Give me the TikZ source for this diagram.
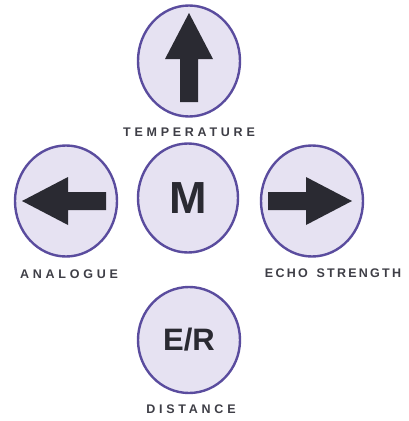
\documentclass[tikz,border=0pt]{standalone}
\usepackage{fontspec}
\usepackage{tikz}
\usetikzlibrary{shapes.geometric}
\newfontfamily\keyfont{Liberation Sans}
\newfontfamily\capfont{Liberation Sans}[LetterSpace=30]
\newfontfamily\capfontnarrow{Liberation Sans}[LetterSpace=18]
\definecolor{keyfill}{RGB}{230,226,242}
\definecolor{keyrim}{RGB}{90,76,158}
\definecolor{keyink}{RGB}{42,42,50}
\definecolor{capink}{RGB}{62,62,70}
\tikzstyle{key}=[ellipse, draw=keyrim, fill=keyfill, line width=2.4pt, minimum width=102pt, minimum height=111pt, inner sep=0pt]
\tikzstyle{keytext}=[text=keyink, font=\keyfont\bfseries]
\tikzstyle{capline}=[text=capink, font=\capfont\bfseries\fontsize{12.5}{13}\selectfont, inner sep=0pt]
\tikzstyle{arrowfill}=[fill=keyink]
\begin{document}
\begin{tikzpicture}[x=1pt, y=-1pt]
	\useasboundingbox (0,0) rectangle (408,421);
	\node[key] (up) at (189,61) {};
	\node[key] (left) at (66,201) {};
	\node[key, minimum width=100pt, minimum height=109pt, keytext, font=\keyfont\bfseries\fontsize{45}{45}\selectfont] (mid) at (188,198) {M};
	\node[key] (right) at (312,201) {};
	\node[key, minimum height=106pt, keytext, font=\keyfont\bfseries\fontsize{31}{31}\selectfont] (down) at (189,340) {E/R};
	\foreach \n/\a/\d/\t in {up/90/4/-45, left/180/0/-40, right/0/-4/-40}{
		\fill[arrowfill, shift={(\n.center)}, rotate=\a, xshift=\d] (\t,-9) -- (-2,-9) -- (-2,-24) -- (44,0) -- (-2,24) -- (-2,9) -- (\t,9) -- cycle;
	}
	\node[capline] (temp) at (189,132) {TEMPERATURE};
	\node[capline] (analogue) at (69,274) {ANALOGUE};
	\node[capline, font=\capfontnarrow\bfseries\fontsize{12.5}{13}\selectfont] (echo) at (333,273) {ECHO\hspace{3pt} STRENGTH};
	\node[capline] (distance) at (191,409) {DISTANCE};
\end{tikzpicture}
\end{document}
